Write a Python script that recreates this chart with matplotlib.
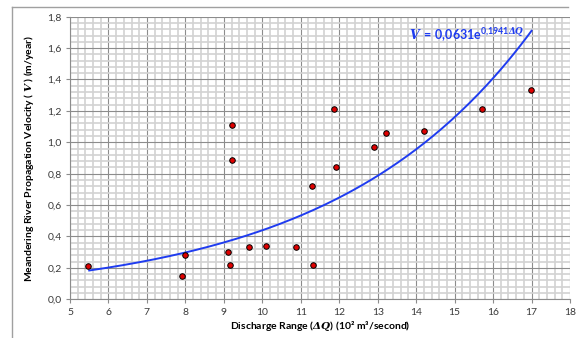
import numpy as np
import matplotlib.pyplot as plt
from matplotlib.lines import Line2D
from matplotlib.ticker import MultipleLocator, FuncFormatter

plt.rcParams['font.family'] = ['Lato', 'DejaVu Sans']
plt.rcParams['mathtext.fontset'] = 'custom'
plt.rcParams['mathtext.rm'] = 'Lato'
plt.rcParams['mathtext.it'] = 'DejaVu Serif:italic'
plt.rcParams['mathtext.bf'] = 'Lato:bold'
plt.rcParams['mathtext.bfit'] = 'DejaVu Serif:italic:bold'

# observed points: discharge range (10^2 m3/s) vs propagation velocity (m/year)
discharge = [5.48, 7.90, 8.00, 9.10, 9.16, 9.21, 9.21, 9.66, 10.10, 10.88,
             11.29, 11.33, 11.87, 11.92, 12.90, 13.22, 14.21, 15.70, 16.99]
velocity = [0.21, 0.15, 0.28, 0.30, 0.22, 1.11, 0.89, 0.33, 0.34, 0.33,
            0.72, 0.22, 1.21, 0.84, 0.97, 1.06, 1.07, 1.21, 1.33]

# exponential trend line V = a * exp(b * dQ)
coef_a = 0.0631
coef_b = 0.1941
trend_start, trend_end = 5.5, 17.0

fig = plt.figure(figsize=(5.76, 3.38), dpi=100)
ax = fig.add_axes([0.1215, 0.1145, 0.8681, 0.8361])

x_fit = np.linspace(trend_start, trend_end, 200)
ax.plot(x_fit, coef_a * np.exp(coef_b * x_fit), color='#1f3cf0', lw=1.4, zorder=3)
ax.scatter(discharge, velocity, s=16, facecolor='#e00000', edgecolor='black',
           linewidth=0.7, zorder=4)

ax.set_xlim(5, 18)
ax.set_ylim(0, 1.8)
ax.xaxis.set_major_locator(MultipleLocator(1))
ax.xaxis.set_minor_locator(MultipleLocator(0.2))
ax.yaxis.set_major_locator(MultipleLocator(0.2))
ax.yaxis.set_minor_locator(MultipleLocator(0.04))
ax.yaxis.set_major_formatter(FuncFormatter(lambda v, p: f'{v:.1f}'.replace('.', ',')))

ax.grid(which='minor', color='#d2d2d2', lw=1.2)
ax.grid(which='major', color='#8c8c8c', lw=0.8)
ax.set_axisbelow(True)
for s in ['top', 'right']:
    ax.spines[s].set_visible(False)
for s in ['left', 'bottom']:
    ax.spines[s].set_color('#8c8c8c')
    ax.spines[s].set_linewidth(0.8)
ax.tick_params(which='major', length=3, color='#8c8c8c', labelsize=7.5, pad=3,
               labelcolor='#3a3a3a')
ax.tick_params(which='minor', length=0)

ax.set_xlabel('Discharge Range ($\\mathbfit{\\Delta Q}$) (10² m³/second)',
              fontsize=7.5, fontweight='bold', labelpad=2)
ax.set_ylabel('Meandering River Propagation Velocity ( $\\mathbfit{V}$ ) (m/year)',
              fontsize=7.5, fontweight='bold', labelpad=8)

ax.text(13.82, 1.68,
        r'$\mathbfit{V}\,\mathbf{=\,0{,}0631e}^{\mathbf{0{,}1941}\mathbfit{\Delta Q}}$',
        color='#1f3cf0', fontsize=9, va='center', ha='left')

# chart area border (left and top)
fig.add_artist(Line2D([12 / 576, 12 / 576], [0, 1 - 7 / 338], color='#a0a0a0', lw=1))
fig.add_artist(Line2D([12 / 576, 568 / 576], [1 - 7 / 338, 1 - 7 / 338], color='#a0a0a0', lw=1))

fig.savefig('out.png', dpi=100)
